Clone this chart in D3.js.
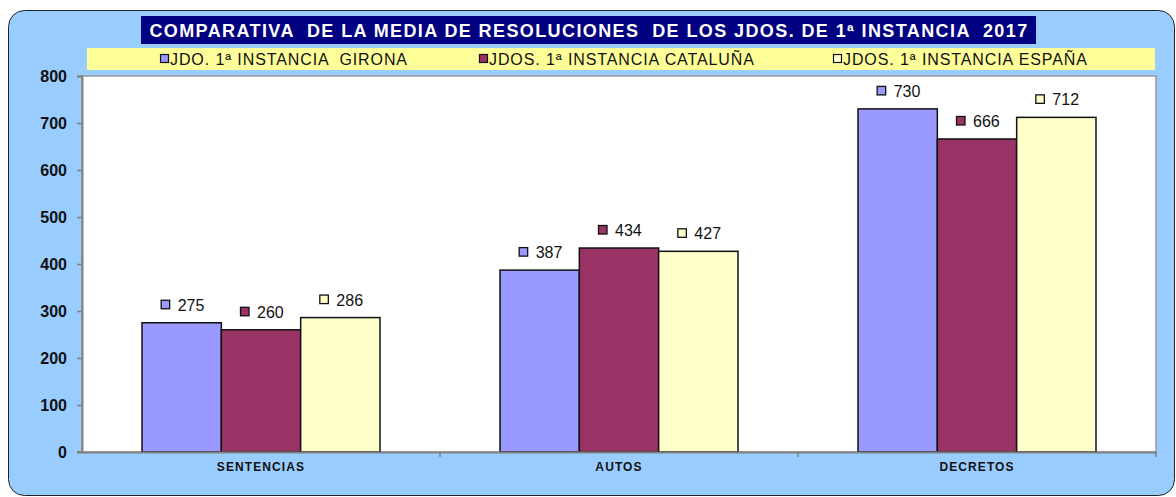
<!DOCTYPE html>
<html>
<head>
<meta charset="utf-8">
<script src="https://cdn.jsdelivr.net/npm/d3@7"></script>
<style>
  body { margin: 0; background: #fff; }
  svg { display: block; font-family: "Liberation Sans", Arial, sans-serif; }
</style>
</head>
<body>
<script>
// data
var categories = ['SENTENCIAS', 'AUTOS', 'DECRETOS'];
var seriesNames = ['JDO. 1ª INSTANCIA  GIRONA', 'JDOS. 1ª INSTANCIA CATALUÑA', 'JDOS. 1ª INSTANCIA ESPAÑA'];
var girona = [275, 387, 730];
var cataluna = [260, 434, 666];
var espana = [286, 427, 712];
var yTicks = [0, 100, 200, 300, 400, 500, 600, 700, 800];
var colors = ['#9999FF', '#993366', '#FFFFCC'];
var title = 'COMPARATIVA  DE LA MEDIA DE RESOLUCIONES  DE LOS JDOS. DE 1ª INSTANCIA  2017';

var width = 1176, height = 497;
var values = [girona, cataluna, espana];

var svg = d3.select('body').append('svg')
  .attr('width', width).attr('height', height);

// outer rounded panel
svg.append('rect').attr('x', 8.5).attr('y', 10.5)
  .attr('width', 1166).attr('height', 485)
  .attr('rx', 16).attr('ry', 16)
  .attr('fill', '#99CCFF').attr('stroke', '#222').attr('stroke-width', 1);

// title box
svg.append('rect').attr('x', 141).attr('y', 16).attr('width', 895).attr('height', 28)
  .attr('fill', '#000080');
svg.append('text').attr('x', 589).attr('y', 36.5)
  .attr('text-anchor', 'middle').attr('fill', '#fff')
  .attr('font-weight', 'bold').attr('font-size', 18)
  .attr('letter-spacing', 1.4)
  .style('white-space', 'pre')
  .text(title);

// legend box
svg.append('rect').attr('x', 87).attr('y', 48).attr('width', 1068).attr('height', 22)
  .attr('fill', '#FFFF99');
var legX = [160, 479, 833];
var leg = svg.append('g');
seriesNames.forEach(function(n, i) {
  leg.append('rect').attr('x', legX[i] + 0.5).attr('y', 54.5).attr('width', 8).attr('height', 8)
    .attr('fill', colors[i]).attr('stroke', '#111').attr('stroke-width', 1.2);
  leg.append('text').attr('x', legX[i] + 10).attr('y', 65)
    .attr('font-size', 16).attr('fill', '#111')
    .attr('letter-spacing', 0.9)
    .style('white-space', 'pre')
    .text(n);
});

// plot area
var pLeft = 82, pRight = 1156, pTop = 76, pBottom = 452;
svg.append('rect').attr('x', pLeft).attr('y', pTop)
  .attr('width', pRight - pLeft).attr('height', pBottom - pTop)
  .attr('fill', '#fff').attr('stroke', '#999').attr('stroke-width', 1.5);

var x = d3.scaleBand().domain(categories).range([pLeft, pRight]);
var xs = d3.scaleBand().domain([0, 1, 2])
  .range([60, x.bandwidth() - 60]);
var y = d3.scaleLinear().domain([0, 800]).range([pBottom, pTop]);

// bars + value labels
categories.forEach(function(c, ci) {
  var g = svg.append('g').attr('transform', 'translate(' + x(c) + ',0)');
  values.forEach(function(s, si) {
    g.append('rect')
      .attr('x', xs(si)).attr('y', y(s[ci]))
      .attr('width', xs.bandwidth()).attr('height', pBottom - y(s[ci]))
      .attr('fill', colors[si]).attr('stroke', '#111').attr('stroke-width', 1.5);
    var cx = xs(si) + xs.bandwidth() / 2;
    var lab = g.append('g').attr('transform', 'translate(' + cx + ',' + (y(s[ci]) - 12) + ')');
    lab.append('rect').attr('x', -20.5).attr('y', -10.5).attr('width', 8.5).attr('height', 8.5)
      .attr('fill', colors[si]).attr('stroke', '#111').attr('stroke-width', 1.3);
    lab.append('text').attr('x', -4).attr('y', 0)
      .attr('font-size', 16).attr('fill', '#111')
      .text(s[ci]);
  });
});

// y axis
var yAxis = svg.append('g').attr('transform', 'translate(' + pLeft + ',0)')
  .call(d3.axisLeft(y).tickValues(yTicks).tickSize(5).tickPadding(10));
yAxis.select('.domain').attr('stroke', '#808080').attr('stroke-width', 2);
yAxis.selectAll('.tick line').attr('stroke', '#808080').attr('stroke-width', 1.5);
yAxis.selectAll('.tick text').attr('font-size', 16).attr('font-weight', 'bold')
  .attr('fill', '#111').attr('font-family', '"Liberation Sans", Arial, sans-serif');

// x axis
var xAxis = svg.append('g').attr('transform', 'translate(0,' + pBottom + ')')
  .call(d3.axisBottom(x).tickSize(0).tickPadding(10));
xAxis.select('.domain').attr('stroke', '#808080').attr('stroke-width', 2);
xAxis.selectAll('.tick text').attr('font-size', 12).attr('font-weight', 'bold')
  .attr('fill', '#111').attr('letter-spacing', 1.1)
  .attr('font-family', '"Liberation Sans", Arial, sans-serif');
// band boundary ticks
xAxis.selectAll('.sep').data(categories.slice(1).concat(['end']))
  .enter().append('line')
  .attr('x1', function(d) { return d === 'end' ? pRight : x(d); })
  .attr('x2', function(d) { return d === 'end' ? pRight : x(d); })
  .attr('y1', 0).attr('y2', 5)
  .attr('stroke', '#808080').attr('stroke-width', 1.5);
svg.append('line').attr('x1', 77).attr('x2', pLeft).attr('y1', pBottom).attr('y2', pBottom)
  .attr('stroke', '#808080').attr('stroke-width', 2);
</script>
</body>
</html>
